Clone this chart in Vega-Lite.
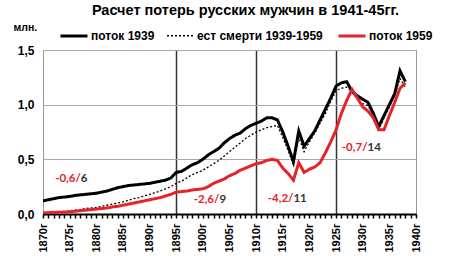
{
  "$schema": "https://vega.github.io/schema/vega-lite/v6.json",
  "width": 373,
  "height": 164,
  "autosize": "none",
  "padding": {"left": 43, "top": 50, "right": 38, "bottom": 42},
  "background": "white",
  "title": {
    "text": "Расчет потерь  русских мужчин в 1941-45гг.",
    "font": "Liberation Sans",
    "fontSize": 14.5,
    "fontWeight": "bold",
    "color": "#000",
    "anchor": "middle",
    "frame": "group",
    "dx": 16,
    "offset": 3
  },
  "config": {
    "view": {"stroke": "#999", "strokeWidth": 1},
    "font": "Liberation Sans"
  },
  "datasets": {
    "series": [
      {"year":1870,"поток 1939":0.12,"ест смерти 1939-1959":0.005,"поток 1959":0.01},
      {"year":1871,"поток 1939":0.13,"ест смерти 1939-1959":0.01,"поток 1959":0.012},
      {"year":1872,"поток 1939":0.14,"ест смерти 1939-1959":0.012,"поток 1959":0.014},
      {"year":1873,"поток 1939":0.15,"ест смерти 1939-1959":0.015,"поток 1959":0.016},
      {"year":1874,"поток 1939":0.155,"ест смерти 1939-1959":0.02,"поток 1959":0.018},
      {"year":1875,"поток 1939":0.16,"ест смерти 1939-1959":0.03,"поток 1959":0.02},
      {"year":1876,"поток 1939":0.17,"ест смерти 1939-1959":0.035,"поток 1959":0.025},
      {"year":1877,"поток 1939":0.175,"ест смерти 1939-1959":0.04,"поток 1959":0.03},
      {"year":1878,"поток 1939":0.18,"ест смерти 1939-1959":0.05,"поток 1959":0.035},
      {"year":1879,"поток 1939":0.185,"ест смерти 1939-1959":0.055,"поток 1959":0.04},
      {"year":1880,"поток 1939":0.19,"ест смерти 1939-1959":0.06,"поток 1959":0.045},
      {"year":1881,"поток 1939":0.2,"ест смерти 1939-1959":0.07,"поток 1959":0.05},
      {"year":1882,"поток 1939":0.21,"ест смерти 1939-1959":0.08,"поток 1959":0.055},
      {"year":1883,"поток 1939":0.225,"ест смерти 1939-1959":0.09,"поток 1959":0.065},
      {"year":1884,"поток 1939":0.24,"ест смерти 1939-1959":0.1,"поток 1959":0.07},
      {"year":1885,"поток 1939":0.25,"ест смерти 1939-1959":0.11,"поток 1959":0.08},
      {"year":1886,"поток 1939":0.26,"ест смерти 1939-1959":0.125,"поток 1959":0.09},
      {"year":1887,"поток 1939":0.265,"ест смерти 1939-1959":0.14,"поток 1959":0.1},
      {"year":1888,"поток 1939":0.27,"ест смерти 1939-1959":0.15,"поток 1959":0.11},
      {"year":1889,"поток 1939":0.275,"ест смерти 1939-1959":0.165,"поток 1959":0.12},
      {"year":1890,"поток 1939":0.28,"ест смерти 1939-1959":0.18,"поток 1959":0.13},
      {"year":1891,"поток 1939":0.29,"ест смерти 1939-1959":0.195,"поток 1959":0.14},
      {"year":1892,"поток 1939":0.3,"ест смерти 1939-1959":0.21,"поток 1959":0.15},
      {"year":1893,"поток 1939":0.31,"ест смерти 1939-1959":0.23,"поток 1959":0.165},
      {"year":1894,"поток 1939":0.33,"ест смерти 1939-1959":0.25,"поток 1959":0.18},
      {"year":1895,"поток 1939":0.38,"ест смерти 1939-1959":0.28,"поток 1959":0.2},
      {"year":1896,"поток 1939":0.39,"ест смерти 1939-1959":0.3,"поток 1959":0.205},
      {"year":1897,"поток 1939":0.42,"ест смерти 1939-1959":0.33,"поток 1959":0.21},
      {"year":1898,"поток 1939":0.45,"ест смерти 1939-1959":0.36,"поток 1959":0.22},
      {"year":1899,"поток 1939":0.47,"ест смерти 1939-1959":0.38,"поток 1959":0.225},
      {"year":1900,"поток 1939":0.5,"ест смерти 1939-1959":0.4,"поток 1959":0.23},
      {"year":1901,"поток 1939":0.54,"ест смерти 1939-1959":0.43,"поток 1959":0.25},
      {"year":1902,"поток 1939":0.57,"ест смерти 1939-1959":0.46,"поток 1959":0.28},
      {"year":1903,"поток 1939":0.6,"ест смерти 1939-1959":0.49,"поток 1959":0.3},
      {"year":1904,"поток 1939":0.65,"ест смерти 1939-1959":0.53,"поток 1959":0.32},
      {"year":1905,"поток 1939":0.69,"ест смерти 1939-1959":0.57,"поток 1959":0.35},
      {"year":1906,"поток 1939":0.72,"ест смерти 1939-1959":0.61,"поток 1959":0.37},
      {"year":1907,"поток 1939":0.74,"ест смерти 1939-1959":0.65,"поток 1959":0.4},
      {"year":1908,"поток 1939":0.78,"ест смерти 1939-1959":0.69,"поток 1959":0.42},
      {"year":1909,"поток 1939":0.81,"ест смерти 1939-1959":0.72,"поток 1959":0.44},
      {"year":1910,"поток 1939":0.83,"ест смерти 1939-1959":0.75,"поток 1959":0.46},
      {"year":1911,"поток 1939":0.85,"ест смерти 1939-1959":0.77,"поток 1959":0.47},
      {"year":1912,"поток 1939":0.88,"ест смерти 1939-1959":0.79,"поток 1959":0.49},
      {"year":1913,"поток 1939":0.88,"ест смерти 1939-1959":0.8,"поток 1959":0.5},
      {"year":1914,"поток 1939":0.86,"ест смерти 1939-1959":0.81,"поток 1959":0.49},
      {"year":1915,"поток 1939":0.75,"ест смерти 1939-1959":0.7,"поток 1959":0.42},
      {"year":1916,"поток 1939":0.62,"ест смерти 1939-1959":0.58,"поток 1959":0.37},
      {"year":1917,"поток 1939":0.48,"ест смерти 1939-1959":0.45,"поток 1959":0.31},
      {"year":1918,"поток 1939":0.76,"ест смерти 1939-1959":0.7,"поток 1959":0.47},
      {"year":1919,"поток 1939":0.62,"ест смерти 1939-1959":0.57,"поток 1959":0.38},
      {"year":1920,"поток 1939":0.69,"ест смерти 1939-1959":0.66,"поток 1959":0.41},
      {"year":1921,"поток 1939":0.76,"ест смерти 1939-1959":0.74,"поток 1959":0.43},
      {"year":1922,"поток 1939":0.86,"ест смерти 1939-1959":0.83,"поток 1959":0.47},
      {"year":1923,"поток 1939":0.96,"ест смерти 1939-1959":0.92,"поток 1959":0.56},
      {"year":1924,"поток 1939":1.06,"ест смерти 1939-1959":1.03,"поток 1959":0.66},
      {"year":1925,"поток 1939":1.17,"ест смерти 1939-1959":1.13,"поток 1959":0.77},
      {"year":1926,"поток 1939":1.2,"ест смерти 1939-1959":1.15,"поток 1959":0.92},
      {"year":1927,"поток 1939":1.21,"ест смерти 1939-1959":1.16,"поток 1959":1.04},
      {"year":1928,"поток 1939":1.12,"ест смерти 1939-1959":1.12,"поток 1959":1.14},
      {"year":1929,"поток 1939":1.08,"ест смерти 1939-1959":1.05,"поток 1959":1.06},
      {"year":1930,"поток 1939":1.05,"ест смерти 1939-1959":1.01,"поток 1959":0.98},
      {"year":1931,"поток 1939":1.02,"ест смерти 1939-1959":0.99,"поток 1959":0.94},
      {"year":1932,"поток 1939":0.92,"ест смерти 1939-1959":0.9,"поток 1959":0.88},
      {"year":1933,"поток 1939":0.8,"ест смерти 1939-1959":0.77,"поток 1959":0.77},
      {"year":1934,"поток 1939":0.9,"ест смерти 1939-1959":0.88,"поток 1959":0.77},
      {"year":1935,"поток 1939":1.0,"ест смерти 1939-1959":0.98,"поток 1959":0.9},
      {"year":1936,"поток 1939":1.1,"ест смерти 1939-1959":1.08,"поток 1959":1.02},
      {"year":1937,"поток 1939":1.31,"ест смерти 1939-1959":1.24,"поток 1959":1.15},
      {"year":1938,"поток 1939":1.21,"ест смерти 1939-1959":1.16,"поток 1959":1.2}
    ],
    "notes": [
      {"year":1877.1,"v":0.32,"red":"-0,6/","black":"6"},
      {"year":1903.1,"v":0.13,"red":"-2,6/","black":"9"},
      {"year":1917.0,"v":0.14,"red":"-4,2/","black":"11"},
      {"year":1930.9,"v":0.6,"red":"-0,7/","black":"14"}
    ]
  },
  "layer": [
    {
      "data": {"name": "series"},
      "transform": [
        {"fold": ["поток 1939", "ест смерти 1939-1959", "поток 1959"], "as": ["series", "value"]}
      ],
      "mark": {"type": "line", "clip": true},
      "encoding": {
        "x": {
          "field": "year", "type": "quantitative",
          "scale": {"domain": [1870, 1940], "nice": false, "zero": false},
          "axis": {
            "title": null,
            "tickCount": 200,
            "values": [1870,1871,1872,1873,1874,1875,1876,1877,1878,1879,1880,1881,1882,1883,1884,1885,1886,1887,1888,1889,1890,1891,1892,1893,1894,1895,1896,1897,1898,1899,1900,1901,1902,1903,1904,1905,1906,1907,1908,1909,1910,1911,1912,1913,1914,1915,1916,1917,1918,1919,1920,1921,1922,1923,1924,1925,1926,1927,1928,1929,1930,1931,1932,1933,1934,1935,1936,1937,1938,1939,1940],
            "labelExpr": "datum.value % 5 == 0 ? datum.value + 'г' : ''",
            "labelAngle": 270,
            "labelAlign": "right",
            "labelBaseline": "middle",
            "labelFont": "Liberation Sans",
            "labelFontSize": 11,
            "labelFontWeight": "bold",
            "labelColor": "#000",
            "labelPadding": 5,
            "labelOverlap": false,
            "labelFlush": false,
            "domainColor": "#000",
            "domainWidth": 2,
            "tickColor": "#000",
            "tickWidth": 1.5,
            "tickSize": 4,
            "grid": true,
            "gridColor": "#333",
            "gridWidth": 1.5,
            "gridOpacity": {"condition": {"test": "datum.value == 1895 || datum.value == 1910 || datum.value == 1925", "value": 1}, "value": 0}
          }
        },
        "y": {
          "field": "value", "type": "quantitative",
          "scale": {"domain": [0, 1.5], "nice": false},
          "axis": {
            "values": [0, 0.5, 1, 1.5],
            "labelExpr": "replace(format(datum.value, '.1f'), '.', ',')",
            "labelFont": "Liberation Sans",
            "labelFontSize": 12,
            "labelFontWeight": "bold",
            "labelColor": "#000",
            "labelPadding": 9,
            "ticks": false,
            "domain": false,
            "gridColor": "#aaa",
            "gridWidth": 1,
            "title": "млн.",
            "titleAngle": 0,
            "titleAlign": "left",
            "titleBaseline": "middle",
            "titleX": -30,
            "titleY": -23,
            "titleFont": "Liberation Sans",
            "titleFontSize": 10.5,
            "titleFontWeight": "bold",
            "titleColor": "#000"
          }
        },
        "color": {
          "field": "series", "type": "nominal",
          "scale": {"domain": ["поток 1939", "ест смерти 1939-1959", "поток 1959"], "range": ["#000000", "#000000", "#e3242b"]},
          "legend": {
            "title": null,
            "orient": "none",
            "direction": "horizontal",
            "legendX": 16,
            "legendY": -29,
            "padding": 0,
            "columnPadding": 9,
            "labelOffset": 2,
            "symbolType": "stroke",
            "symbolSize": 729,
            "labelFont": "Liberation Sans",
            "labelFontSize": 12,
            "labelFontWeight": "bold",
            "labelColor": "#000",
            "labelLimit": 300
          }
        },
        "strokeDash": {
          "field": "series", "type": "nominal",
          "scale": {"domain": ["поток 1939", "ест смерти 1939-1959", "поток 1959"], "range": [[1, 0], [2, 2], [1, 0]]},
          "legend": {
            "title": null,
            "orient": "none",
            "direction": "horizontal",
            "legendX": 16,
            "legendY": -29,
            "padding": 0,
            "columnPadding": 9,
            "labelOffset": 2,
            "symbolType": "stroke",
            "symbolSize": 729,
            "labelFont": "Liberation Sans",
            "labelFontSize": 12,
            "labelFontWeight": "bold",
            "labelColor": "#000",
            "labelLimit": 300
          }
        },
        "strokeWidth": {
          "field": "series", "type": "nominal",
          "scale": {"type": "ordinal", "domain": ["поток 1939", "ест смерти 1939-1959", "поток 1959"], "range": [3, 1.3, 3]},
          "legend": {
            "title": null,
            "orient": "none",
            "direction": "horizontal",
            "legendX": 16,
            "legendY": -29,
            "padding": 0,
            "columnPadding": 9,
            "labelOffset": 2,
            "symbolType": "stroke",
            "symbolSize": 729,
            "labelFont": "Liberation Sans",
            "labelFontSize": 12,
            "labelFontWeight": "bold",
            "labelColor": "#000",
            "labelLimit": 300
          }
        }
      }
    },
    {
      "data": {"name": "notes"},
      "mark": {"type": "text", "align": "right", "baseline": "middle", "font": "Lato", "fontSize": 11.5, "fontWeight": "bold", "color": "#e3242b"},
      "encoding": {
        "x": {"field": "year", "type": "quantitative"},
        "y": {"field": "v", "type": "quantitative"},
        "text": {"field": "red"}
      }
    },
    {
      "data": {"name": "notes"},
      "mark": {"type": "text", "align": "left", "baseline": "middle", "font": "Lato", "fontSize": 11.5, "fontWeight": "bold", "color": "#333"},
      "encoding": {
        "x": {"field": "year", "type": "quantitative"},
        "y": {"field": "v", "type": "quantitative"},
        "text": {"field": "black"}
      }
    }
  ]
}
